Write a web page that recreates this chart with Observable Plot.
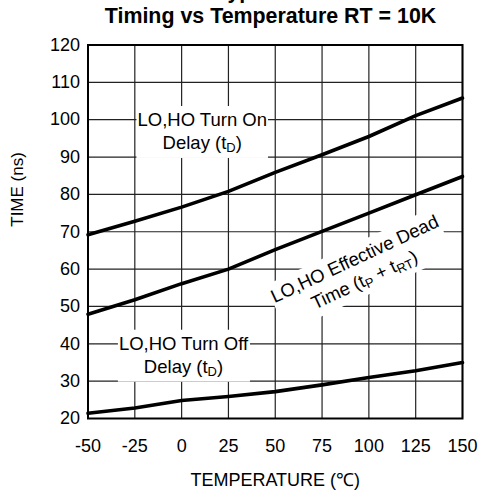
<!DOCTYPE html>
<html><head><meta charset="utf-8">
<script src="https://cdn.jsdelivr.net/npm/d3@7"></script>
<script src="https://cdn.jsdelivr.net/npm/@observablehq/plot@0.6"></script>
<style>
body{margin:0;background:#fff;font-family:"Liberation Sans",Arial,sans-serif;}
#title{width:479px;height:28px;position:relative;overflow:hidden;font-weight:bold;font-size:21.4px;color:#000;}
#title div{position:absolute;line-height:20px;text-align:center;white-space:nowrap;}
#chart svg{display:block;}
</style></head><body>
<div id="title"></div>
<div id="chart"></div>
<script>
const temperatures = [-50, -25, 0, 25, 50, 75, 100, 125, 150];
const turnOnDelay  = [69.2, 72.8, 76.6, 80.8, 85.9, 90.6, 95.5, 101.1, 105.8];
const deadTime     = [47.9, 51.8, 56.1, 60.0, 65.2, 70.1, 75.0, 79.9, 84.8];
const turnOffDelay = [21.4, 22.8, 24.8, 25.9, 27.2, 29.0, 31.0, 32.8, 35.0];
const xTicks = [-50, -25, 0, 25, 50, 75, 100, 125, 150];
const yTicks = [20, 30, 40, 50, 60, 70, 80, 90, 100, 110, 120];
const titleLines = ["Typical", "Timing vs Temperature RT = 10K"];
const xLabel = "TEMPERATURE (\u2103)";
const yLabel = "TIME (ns)";
const seriesNames = ["turnOn", "deadTime", "turnOff"];
const annotationTexts = ["LO,HO Turn On\nDelay (t_{D})", "LO,HO Effective Dead\nTime (t_{P} + t_{RT})", "LO,HO Turn Off\nDelay (t_{D})"];
const annotationX = [11, 94.7, 1];
const annotationY = [97.2, 60.2, 37.3];
const annotationAngle = [0, -25, 0];

const titleEl = document.getElementById("title");
const titleTops = [-19, 5.5];
const titleCenters = [252, 270.5];
titleLines.forEach((t, i) => {
  const d = document.createElement("div");
  d.style.top = titleTops[i] + "px";
  d.style.left = (titleCenters[i] - 240) + "px";
  d.style.width = "480px";
  d.textContent = t;
  titleEl.appendChild(d);
});

const seriesValues = [turnOnDelay, deadTime, turnOffDelay];
const rows = [];
seriesNames.forEach((s, i) => temperatures.forEach((t, j) => rows.push({series: s, t, v: seriesValues[i][j]})));
const annotations = annotationTexts.map((text, i) => ({text, x: annotationX[i], y: annotationY[i], rotate: annotationAngle[i]}));

const chart = Plot.plot({
  width: 479,
  height: 472,
  marginTop: 16.5,
  marginBottom: 82,
  marginLeft: 87.5,
  marginRight: 17,
  style: {fontFamily: "'Liberation Sans', Arial, sans-serif", fontSize: "18px", color: "#000", background: "#fff"},
  x: {domain: [-50, 150], ticks: xTicks, tickSize: 0, tickPadding: 21, label: null, tickFormat: d => String(d)},
  y: {domain: [20, 120], ticks: yTicks, tickSize: 0, tickPadding: 8, label: null, tickFormat: d => String(d)},
  marks: [
    Plot.gridX(xTicks, {stroke: "#222", strokeOpacity: 1, strokeWidth: 1.2}),
    Plot.gridY(yTicks, {stroke: "#222", strokeOpacity: 1, strokeWidth: 1.2}),
    Plot.line(rows, {x: "t", y: "v", z: "series", stroke: "#000", strokeWidth: 3.6}),
    Plot.text(annotations, {x: "x", y: "y", text: "text", rotate: "rotate", fill: "#000", fontSize: 18.5, lineHeight: 1.25, textAnchor: "middle", ariaDescription: "annot"}),
    Plot.frame({stroke: "#000", strokeWidth: 2}),
    Plot.text([xLabel], {frameAnchor: "bottom", dy: 67, fontSize: 18, fill: "#000"}),
    Plot.text([yLabel], {frameAnchor: "left", dx: -70, dy: -5, rotate: -90, fontSize: 17, fill: "#000"})
  ]
});
document.getElementById("chart").appendChild(chart);

// subscripts and white label boxes
d3.select(chart).selectAll('g[aria-description="annot"] text').each(function() {
  const textEl = this;
  const parts = d3.select(textEl).selectAll("tspan").nodes();
  const targets = parts.length ? parts : [textEl];
  targets.forEach(node => {
    const str = node.textContent;
    if (!/_\{/.test(str)) return;
    node.textContent = "";
    const re = /_\{(.*?)\}/g;
    let last = 0, m;
    while ((m = re.exec(str))) {
      if (m.index > last) node.appendChild(document.createTextNode(str.slice(last, m.index)));
      const sub = document.createElementNS("http://www.w3.org/2000/svg", "tspan");
      sub.setAttribute("baseline-shift", "-0.22em");
      sub.setAttribute("font-size", "70%");
      sub.textContent = m[1];
      node.appendChild(sub);
      last = re.lastIndex;
    }
    if (last < str.length) node.appendChild(document.createTextNode(str.slice(last)));
  });
  const bb = textEl.getBBox();
  const padX = 1, padY = 3;
  const rect = document.createElementNS("http://www.w3.org/2000/svg", "rect");
  rect.setAttribute("x", bb.x - padX);
  rect.setAttribute("y", bb.y - padY);
  rect.setAttribute("width", bb.width + 2 * padX);
  rect.setAttribute("height", bb.height + 2 * padY);
  rect.setAttribute("fill", "#fff");
  const tr = textEl.getAttribute("transform");
  if (tr) rect.setAttribute("transform", tr);
  textEl.parentNode.insertBefore(rect, textEl);
});
</script>
</body></html>
